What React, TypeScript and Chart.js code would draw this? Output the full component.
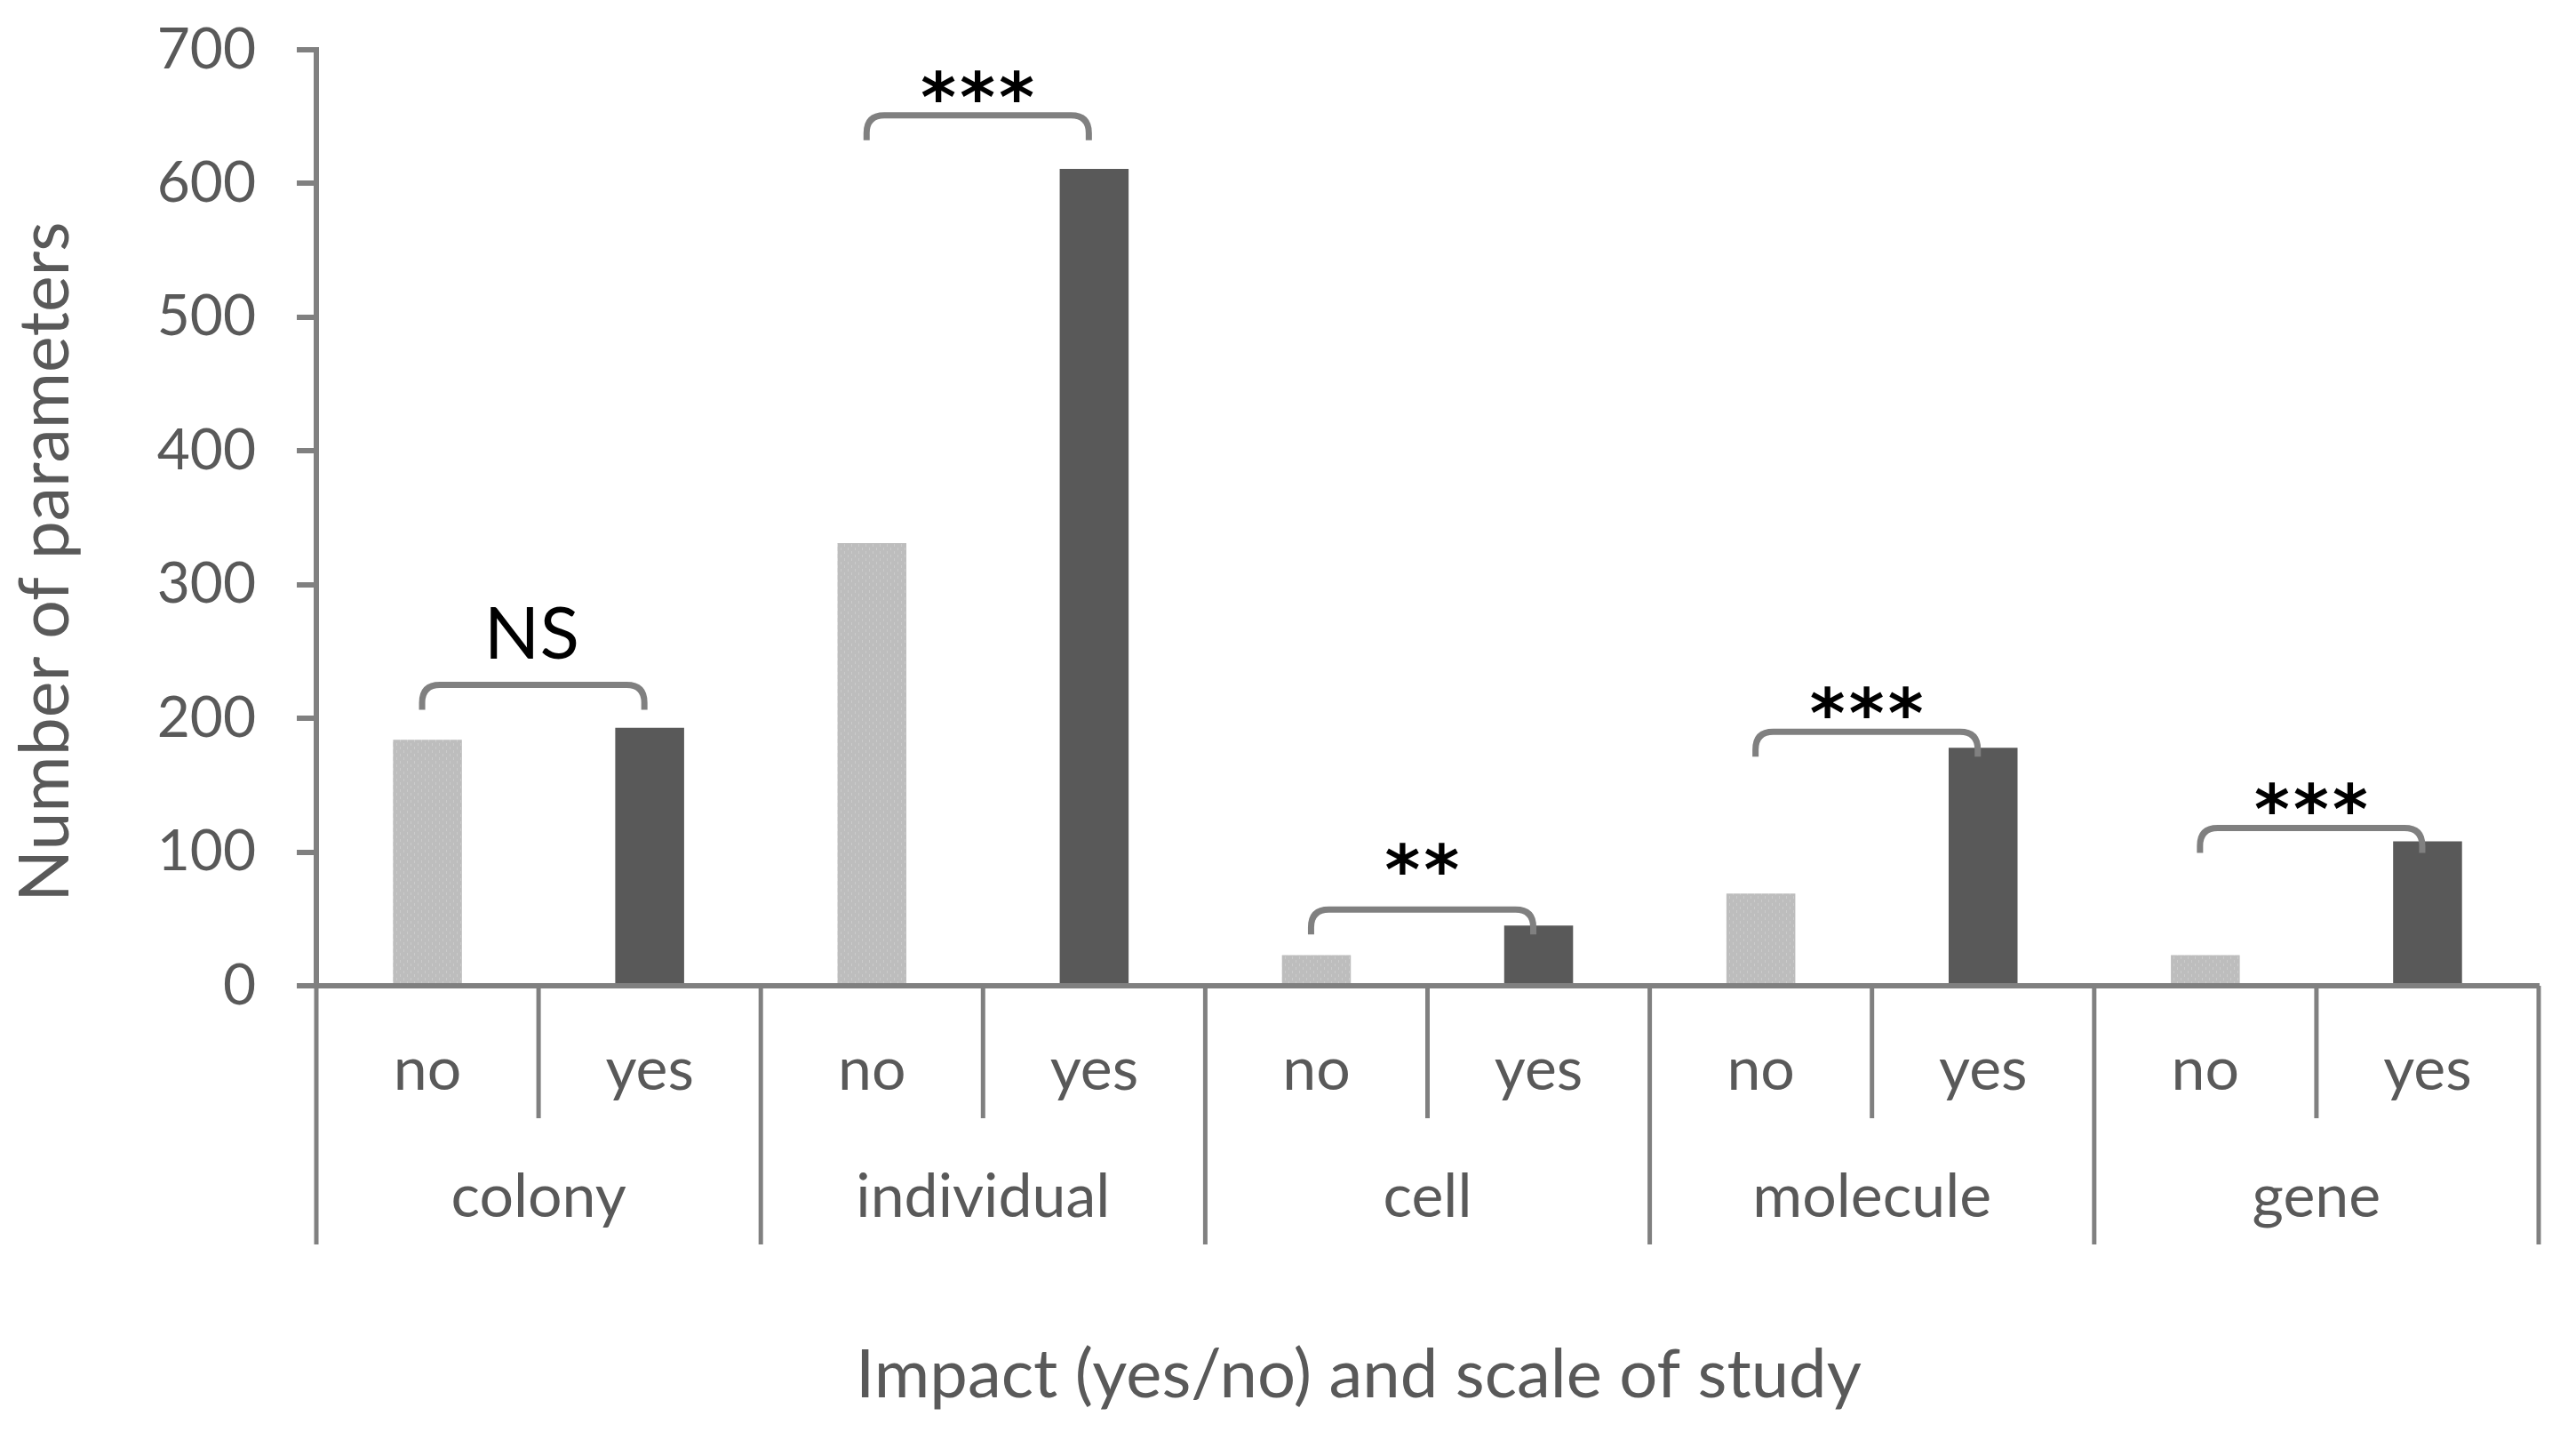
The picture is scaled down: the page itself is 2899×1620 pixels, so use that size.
import React, { useEffect, useRef } from 'react';
import { Chart, registerables } from 'chart.js';

Chart.register(...registerables);

// ---- data ----
const groups = ['colony', 'individual', 'cell', 'molecule', 'gene'];
const impactLabels = ['no', 'yes'];
const noValues = [184, 331, 23, 69, 23];
const yesValues = [193, 611, 45, 178, 108];
const significance = ['NS', '***', '**', '***', '***'];
const bracketLevels = [225, 651, 57, 190, 118];
const labelLevels = [264, 673, 95, 212, 140];
const yTicks = [0, 100, 200, 300, 400, 500, 600, 700];
const xTitle = 'Impact (yes/no) and scale of study';
const yTitle = 'Number of parameters';

const AXIS = '#808080';
const TEXT = '#595959';
const DARK = '#595959';
const LIGHT = '#bdbdbd';
const FONT = 'Lato, "Open Sans", sans-serif';

function makePattern(): CanvasPattern | string {
  const c = document.createElement('canvas');
  c.width = 8;
  c.height = 8;
  const p = c.getContext('2d');
  if (!p) return LIGHT;
  p.fillStyle = LIGHT;
  p.fillRect(0, 0, 8, 8);
  p.fillStyle = '#cbcbcb';
  p.fillRect(2, 0, 1, 3);
  p.fillRect(6, 4, 1, 3);
  const pat = p.createPattern(c, 'repeat');
  return pat || LIGHT;
}

function centerInk(ctx: CanvasRenderingContext2D, text: string, x: number, yc: number) {
  const m = ctx.measureText(text);
  const asc = m.actualBoundingBoxAscent;
  const desc = m.actualBoundingBoxDescent;
  const l = m.actualBoundingBoxLeft;
  const r = m.actualBoundingBoxRight;
  ctx.fillText(text, x - (r - l) / 2, yc + (asc - desc) / 2);
}

const annotationPlugin = {
  id: 'annotations',
  afterDatasetsDraw(chart: any) {
    const { ctx, scales } = chart;
    const x = scales.x;
    const y = scales.y;
    ctx.save();
    groups.forEach((_, i) => {
      const xl = x.getPixelForValue(2 * i) - 6;
      const xr = x.getPixelForValue(2 * i + 1) - 6;
      const yt = y.getPixelForValue(bracketLevels[i]);
      const drop = 28;
      const r = 20;
      ctx.beginPath();
      ctx.moveTo(xl, yt + drop);
      ctx.lineTo(xl, yt + r);
      ctx.quadraticCurveTo(xl, yt, xl + r, yt);
      ctx.lineTo(xr - r, yt);
      ctx.quadraticCurveTo(xr, yt, xr, yt + r);
      ctx.lineTo(xr, yt + drop);
      ctx.strokeStyle = AXIS;
      ctx.lineWidth = 7;
      ctx.lineCap = 'butt';
      ctx.stroke();

      const cx = (xl + xr) / 2;
      const cy = y.getPixelForValue(labelLevels[i]);
      ctx.fillStyle = '#000000';
      ctx.textAlign = 'left';
      ctx.textBaseline = 'alphabetic';
      const s = significance[i];
      if (s.startsWith('*')) {
        ctx.font = 'bold 76px "DejaVu Sans", sans-serif';
        const pitch = 44;
        const n = s.length;
        for (let k = 0; k < n; k++) {
          const sx = cx + (k - (n - 1) / 2) * pitch;
          centerInk(ctx, '*', sx, cy);
        }
      } else {
        ctx.font = `82px ${FONT}`;
        centerInk(ctx, s, cx, cy);
      }
    });
    ctx.restore();
  },
};

const groupAxisPlugin = {
  id: 'groupAxis',
  afterDraw(chart: any) {
    const { ctx, scales, chartArea } = chart;
    const x = scales.x;
    const y = scales.y;
    const base = y.getPixelForValue(0);
    const n = groups.length * impactLabels.length;
    const step = x.getPixelForValue(1) - x.getPixelForValue(0);
    const left = x.getPixelForValue(0) - step / 2;
    ctx.save();
    ctx.strokeStyle = AXIS;
    ctx.lineWidth = 5;
    for (let k = 0; k <= n; k++) {
      const px = left + step * k;
      const bottom = k % 2 === 0 ? base + 291 : base + 149;
      ctx.beginPath();
      ctx.moveTo(px, base);
      ctx.lineTo(px, bottom);
      ctx.stroke();
    }
    ctx.fillStyle = TEXT;
    ctx.textAlign = 'center';
    ctx.textBaseline = 'alphabetic';
    ctx.font = `68px ${FONT}`;
    groups.forEach((g, i) => {
      impactLabels.forEach((lab, j) => {
        const px = x.getPixelForValue(2 * i + j);
        ctx.fillText(lab, px, base + 117);
      });
      const gx = left + step * (2 * i + 1);
      ctx.fillText(g, gx, base + 260);
    });
    // x title
    ctx.font = `76px ${FONT}`;
    ctx.fillText(xTitle, chartArea.left + chartArea.width * 0.469, base + 463);
    // y title
    ctx.save();
    ctx.translate(77, 632);
    ctx.rotate(-Math.PI / 2);
    ctx.font = `77px ${FONT}`;
    ctx.fillText(yTitle, 0, 0);
    ctx.restore();
    ctx.restore();
  },
};

export default function App() {
  const ref = useRef<HTMLCanvasElement | null>(null);
  useEffect(() => {
    document.body.style.margin = '0';
    document.body.style.overflow = 'hidden';
    const canvas = ref.current;
    if (!canvas) return;
    const light = makePattern();
    const labels = groups.flatMap((g) => impactLabels.map((l) => `${g} ${l}`));
    const values = groups.flatMap((_, i) => [noValues[i], yesValues[i]]);
    const colors = groups.flatMap(() => [light, DARK]);
    const chart = new Chart(canvas, {
      type: 'bar',
      data: {
        labels,
        datasets: [
          {
            data: values,
            backgroundColor: colors as any,
            borderWidth: 0,
            barPercentage: 0.31,
            categoryPercentage: 1.0,
          },
        ],
      },
      options: {
        animation: false,
        responsive: true,
        maintainAspectRatio: false,
        devicePixelRatio: 1,
        layout: { padding: { top: 56, right: 42, left: 0, bottom: 0 } },
        plugins: {
          legend: { display: false },
          tooltip: { enabled: false },
          title: { display: false },
        },
        scales: {
          x: {
            type: 'category',
            offset: true,
            grid: { display: false },
            ticks: { display: false },
            border: { display: true, color: AXIS, width: 6 },
            afterFit: (scale: any) => {
              scale.height = 511;
            },
          },
          y: {
            min: 0,
            max: 700,
            afterBuildTicks: (scale: any) => {
              scale.ticks = yTicks.map((v) => ({ value: v }));
            },
            ticks: {
              stepSize: 100,
              font: { family: FONT, size: 64 },
              color: TEXT,
              padding: 46,
            },
            grid: {
              drawOnChartArea: false,
              drawTicks: true,
              tickLength: 22,
              color: AXIS,
              lineWidth: 6,
            },
            border: { display: true, color: AXIS, width: 6 },
            afterFit: (scale: any) => {
              scale.width = 356;
              scale.paddingTop = 0;
              scale.paddingBottom = 0;
            },
          },
        },
      },
      plugins: [annotationPlugin, groupAxisPlugin],
    });
    let alive = true;
    if ((document as any).fonts && (document as any).fonts.ready) {
      (document as any).fonts.ready.then(() => {
        if (alive) chart.update('none');
      });
    }
    return () => {
      alive = false;
      chart.destroy();
    };
  }, []);
  return (
    <div style={{ width: '2899px', height: '1620px', position: 'relative', background: '#ffffff' }}>
      <canvas ref={ref} />
    </div>
  );
}
